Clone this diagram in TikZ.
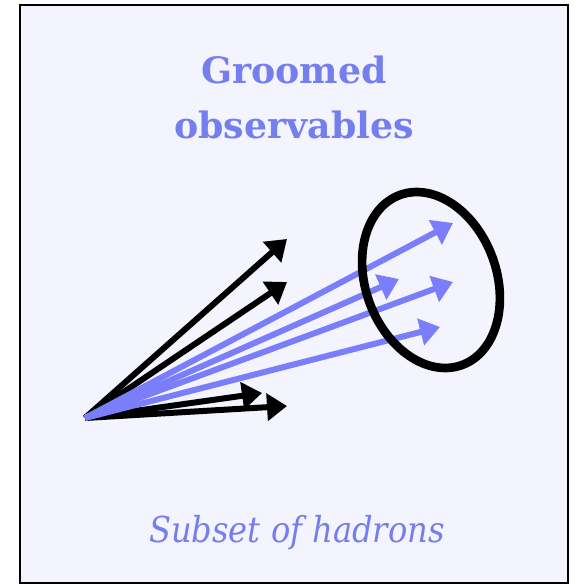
\documentclass[tikz,border=0pt]{standalone}
\usepackage{fontspec}
\setmainfont{DejaVu Serif}
\newfontfamily\captionfont{DejaVu Serif Condensed}
\usetikzlibrary{arrows.meta,shapes.geometric}
\definecolor{HadronBlue}{RGB}{122,126,250}
\definecolor{LabelBlue}{RGB}{116,126,236}
\definecolor{PaleLilac}{RGB}{243,244,253}

\begin{document}
\begin{tikzpicture}[x=0.03cm, y=-0.03cm,
    hadron/.style={line width=0.18cm, -{Triangle[length=0.6cm, width=0.8cm]}},
    label/.style={text=LabelBlue, align=center}]
  \useasboundingbox (0,0) rectangle (574,585);
  \draw[line width=0.06cm, fill=PaleLilac] (20,5) rectangle (568,583);

  \node[label, font=\bfseries\fontsize{31}{47}\selectfont] (title) at (294,97) {Groomed\\observables};
  \node[label, font=\captionfont\itshape\fontsize{30.5}{40}\selectfont, anchor=base] (caption) at (297,542) {Subset of hadrons};

  % where all hadrons start
  \coordinate (origin) at (85,418);
  % hadrons removed by grooming
  \coordinate (cut1) at (287,239);
  \coordinate (cut2) at (287,282);
  \coordinate (cut3) at (262,393);
  \coordinate (cut4) at (287,406);
  % hadrons kept
  \coordinate (kept1) at (453,223);
  \coordinate (kept2) at (399,279);
  \coordinate (kept3) at (453,282);
  \coordinate (kept4) at (440,327);

  \foreach \c in {cut1,cut2,cut3,cut4}
    \draw[hadron, black] (origin) -- (\c);
  \foreach \k in {kept1,kept2,kept3,kept4}
    \draw[hadron, HadronBlue] (origin) -- (\k);

  \node[draw, ellipse, line width=0.26cm, minimum width=3.93cm, minimum height=5.43cm, rotate=20] (subset) at (431,280) {};
\end{tikzpicture}
\end{document}
